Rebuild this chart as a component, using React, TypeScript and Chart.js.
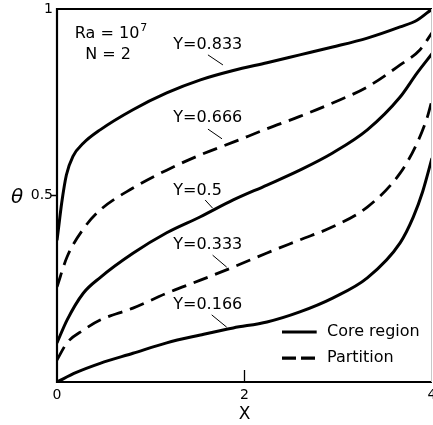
import React, { useEffect, useRef } from "react";
import { Chart, registerables } from "chart.js";

Chart.register(...registerables);

// ---- data ----
const xTicks = [0, 2, 4];
const yTicks = [0.5, 1];

const xY0833 = [0, 0.02, 0.05, 0.1, 0.17, 0.28, 0.46, 0.81, 1.17, 1.53, 1.88, 2.24, 2.59, 2.94, 3.31, 3.66, 3.84, 4.0];
const tY0833 = [0.38, 0.42, 0.48, 0.555, 0.605, 0.64, 0.676, 0.73, 0.775, 0.81, 0.835, 0.856, 0.877, 0.898, 0.922, 0.952, 0.97, 1.0];

const xY0666 = [0, 0.107, 0.28, 0.46, 0.81, 1.17, 1.53, 1.88, 2.24, 2.59, 2.94, 3.31, 3.66, 3.87, 4.0];
const tY0666 = [0.255, 0.335, 0.41, 0.461, 0.52, 0.568, 0.609, 0.643, 0.679, 0.712, 0.748, 0.791, 0.85, 0.89, 0.936];

const xY05 = [0, 0.107, 0.28, 0.46, 0.81, 1.17, 1.53, 1.88, 2.24, 2.59, 2.94, 3.31, 3.66, 3.84, 4.0];
const tY05 = [0.105, 0.166, 0.238, 0.28, 0.345, 0.4, 0.443, 0.488, 0.528, 0.568, 0.614, 0.676, 0.764, 0.828, 0.88];

const xY0333 = [0, 0.107, 0.28, 0.46, 0.81, 1.17, 1.53, 1.88, 2.24, 2.59, 2.94, 3.31, 3.66, 3.84, 3.95, 4.0];
const tY0333 = [0.059, 0.105, 0.139, 0.166, 0.198, 0.238, 0.273, 0.308, 0.346, 0.381, 0.416, 0.469, 0.56, 0.64, 0.71, 0.756];

const xY0166 = [0, 0.2, 0.46, 0.81, 1.17, 1.53, 1.88, 2.24, 2.59, 2.94, 3.31, 3.66, 3.8, 3.9, 4.0];
const tY0166 = [0, 0.025, 0.05, 0.077, 0.105, 0.126, 0.145, 0.161, 0.188, 0.225, 0.279, 0.373, 0.442, 0.51, 0.6];

const curveLabels = ["Y=0.833", "Y=0.666", "Y=0.5", "Y=0.333", "Y=0.166"];
const legendLabels = ["Core region", "Partition"];

// ---- annotation placement (data coordinates) ----
const labelPos = [
  { x: 1.24, y: 0.903, lx1: 1.61, ly1: 0.877, lx2: 1.77, ly2: 0.85 },
  { x: 1.24, y: 0.708, lx1: 1.61, ly1: 0.678, lx2: 1.76, ly2: 0.652 },
  { x: 1.24, y: 0.512, lx1: 1.58, ly1: 0.488, lx2: 1.66, ly2: 0.466 },
  { x: 1.24, y: 0.367, lx1: 1.66, ly1: 0.34, lx2: 1.81, ly2: 0.308 },
  { x: 1.24, y: 0.206, lx1: 1.65, ly1: 0.18, lx2: 1.81, ly2: 0.147 },
];

const FONT = "'DejaVu Sans', sans-serif";
const DASH = [15, 8];

const toPts = (xs: number[], ys: number[]) => xs.map((x, i) => ({ x, y: ys[i] }));

const overlay = {
  id: "overlay",
  afterDatasetsDraw(chart: any) {
    const { ctx, chartArea: a, scales } = chart;
    const sx = scales.x;
    const sy = scales.y;
    const px = (v: number) => sx.getPixelForValue(v);
    const py = (v: number) => sy.getPixelForValue(v);
    ctx.save();
    // frame
    ctx.strokeStyle = "#000";
    ctx.lineWidth = 2.2;
    ctx.setLineDash([]);
    ctx.beginPath();
    ctx.moveTo(a.right, a.top);
    ctx.lineTo(a.left, a.top);
    ctx.lineTo(a.left, a.bottom);
    ctx.lineTo(a.right, a.bottom);
    ctx.stroke();
    ctx.strokeStyle = "#c8c8c8";
    ctx.lineWidth = 1;
    ctx.beginPath();
    ctx.moveTo(a.right - 0.5, a.top);
    ctx.lineTo(a.right - 0.5, a.bottom);
    ctx.stroke();
    // ticks
    ctx.strokeStyle = "#000";
    ctx.lineWidth = 1.3;
    ctx.beginPath();
    ctx.moveTo(a.left - 6, py(0.5));
    ctx.lineTo(a.left, py(0.5));
    ctx.moveTo(px(2), a.bottom);
    ctx.lineTo(px(2), a.bottom - 12);
    ctx.stroke();

    // curve labels with leader lines
    ctx.fillStyle = "#000";
    ctx.font = `16px ${FONT}`;
    ctx.textAlign = "left";
    ctx.textBaseline = "middle";
    ctx.lineWidth = 1;
    curveLabels.forEach((t, i) => {
      const p = labelPos[i];
      ctx.fillText(t, px(p.x), py(p.y));
      ctx.beginPath();
      ctx.moveTo(px(p.lx1), py(p.ly1));
      ctx.lineTo(px(p.lx2), py(p.ly2));
      ctx.stroke();
    });

    // Ra = 10^7, N = 2
    ctx.font = `16px ${FONT}`;
    const raX = px(0.19);
    const raY = py(0.933);
    ctx.fillText("Ra = 10", raX, raY);
    const w = ctx.measureText("Ra = 10").width;
    ctx.font = `11px ${FONT}`;
    ctx.fillText("7", raX + w + 1, raY - 6);
    ctx.font = `16px ${FONT}`;
    ctx.fillText("N = 2", px(0.3), py(0.878));

    // theta axis label
    ctx.font = `italic 20px ${FONT}`;
    ctx.textAlign = "center";
    ctx.fillText("θ", 17, py(0.5) + 2);

    // legend
    const ds = chart.data.datasets;
    const items = [
      { ds: ds[0], label: legendLabels[0], y: 0.134 },
      { ds: ds[1], label: legendLabels[1], y: 0.064 },
    ];
    items.forEach((it) => {
      ctx.strokeStyle = it.ds.borderColor;
      ctx.lineWidth = 3.2;
      ctx.setLineDash(it.ds.borderDash ? [14, 5] : []);
      ctx.beginPath();
      ctx.moveTo(px(2.4), py(it.y));
      ctx.lineTo(px(2.77), py(it.y));
      ctx.stroke();
      ctx.setLineDash([]);
      ctx.fillStyle = "#000";
      ctx.font = `16px ${FONT}`;
      ctx.textAlign = "left";
      ctx.fillText(it.label, px(2.88), py(it.y));
    });
    ctx.restore();
  },
};

export default function App() {
  const ref = useRef<HTMLCanvasElement>(null);
  useEffect(() => {
    const solid = { borderColor: "#000", borderWidth: 3, pointRadius: 0, showLine: true, cubicInterpolationMode: "monotone" as const, fill: false };
    const dashed = { ...solid, borderDash: DASH, borderWidth: 2.8 };
    const chart = new Chart(ref.current!, {
      type: "scatter",
      data: {
        datasets: [
          { label: "Y=0.833", data: toPts(xY0833, tY0833), ...solid },
          { label: "Y=0.666", data: toPts(xY0666, tY0666), ...dashed },
          { label: "Y=0.5", data: toPts(xY05, tY05), ...solid },
          { label: "Y=0.333", data: toPts(xY0333, tY0333), ...dashed },
          { label: "Y=0.166", data: toPts(xY0166, tY0166), ...solid },
        ],
      },
      options: {
        animation: false,
        responsive: true,
        maintainAspectRatio: false,
        layout: { padding: { top: 9, right: 1, left: 0, bottom: 0 } },
        plugins: { legend: { display: false }, tooltip: { enabled: false } },
        scales: {
          x: {
            type: "linear",
            min: 0,
            max: 4,
            afterBuildTicks: (s: any) => {
              s.ticks = xTicks.map((v) => ({ value: v }));
            },
            afterFit: (s: any) => {
              s.height = 43;
              s.paddingLeft = 0;
              s.paddingRight = 0;
            },
            ticks: {
              autoSkip: false,
              maxRotation: 0,
              padding: 5,
              color: "#000",
              font: { family: FONT, size: 14 },
              callback: (v: any) => String(v),
            },
            grid: { display: false, drawTicks: false },
            border: { display: false },
            title: { display: true, text: "X", color: "#000", font: { family: FONT, size: 17 }, padding: 0 },
          },
          y: {
            type: "linear",
            min: 0,
            max: 1,
            afterBuildTicks: (s: any) => {
              s.ticks = yTicks.map((v) => ({ value: v }));
            },
            afterFit: (s: any) => {
              s.width = 57;
              s.paddingTop = 0;
              s.paddingBottom = 0;
            },
            ticks: {
              autoSkip: false,
              padding: 4,
              color: "#000",
              font: { family: FONT, size: 14 },
              callback: (v: any) => (v === 0.5 ? "0.5" : String(v)),
            },
            grid: { display: false, drawTicks: false },
            border: { display: false },
          },
        },
      },
      plugins: [overlay],
    });
    return () => chart.destroy();
  }, []);
  return (
    <div style={{ position: "fixed", left: 0, top: 0, width: 433, height: 425, background: "#fff" }}>
      <canvas ref={ref} />
    </div>
  );
}
